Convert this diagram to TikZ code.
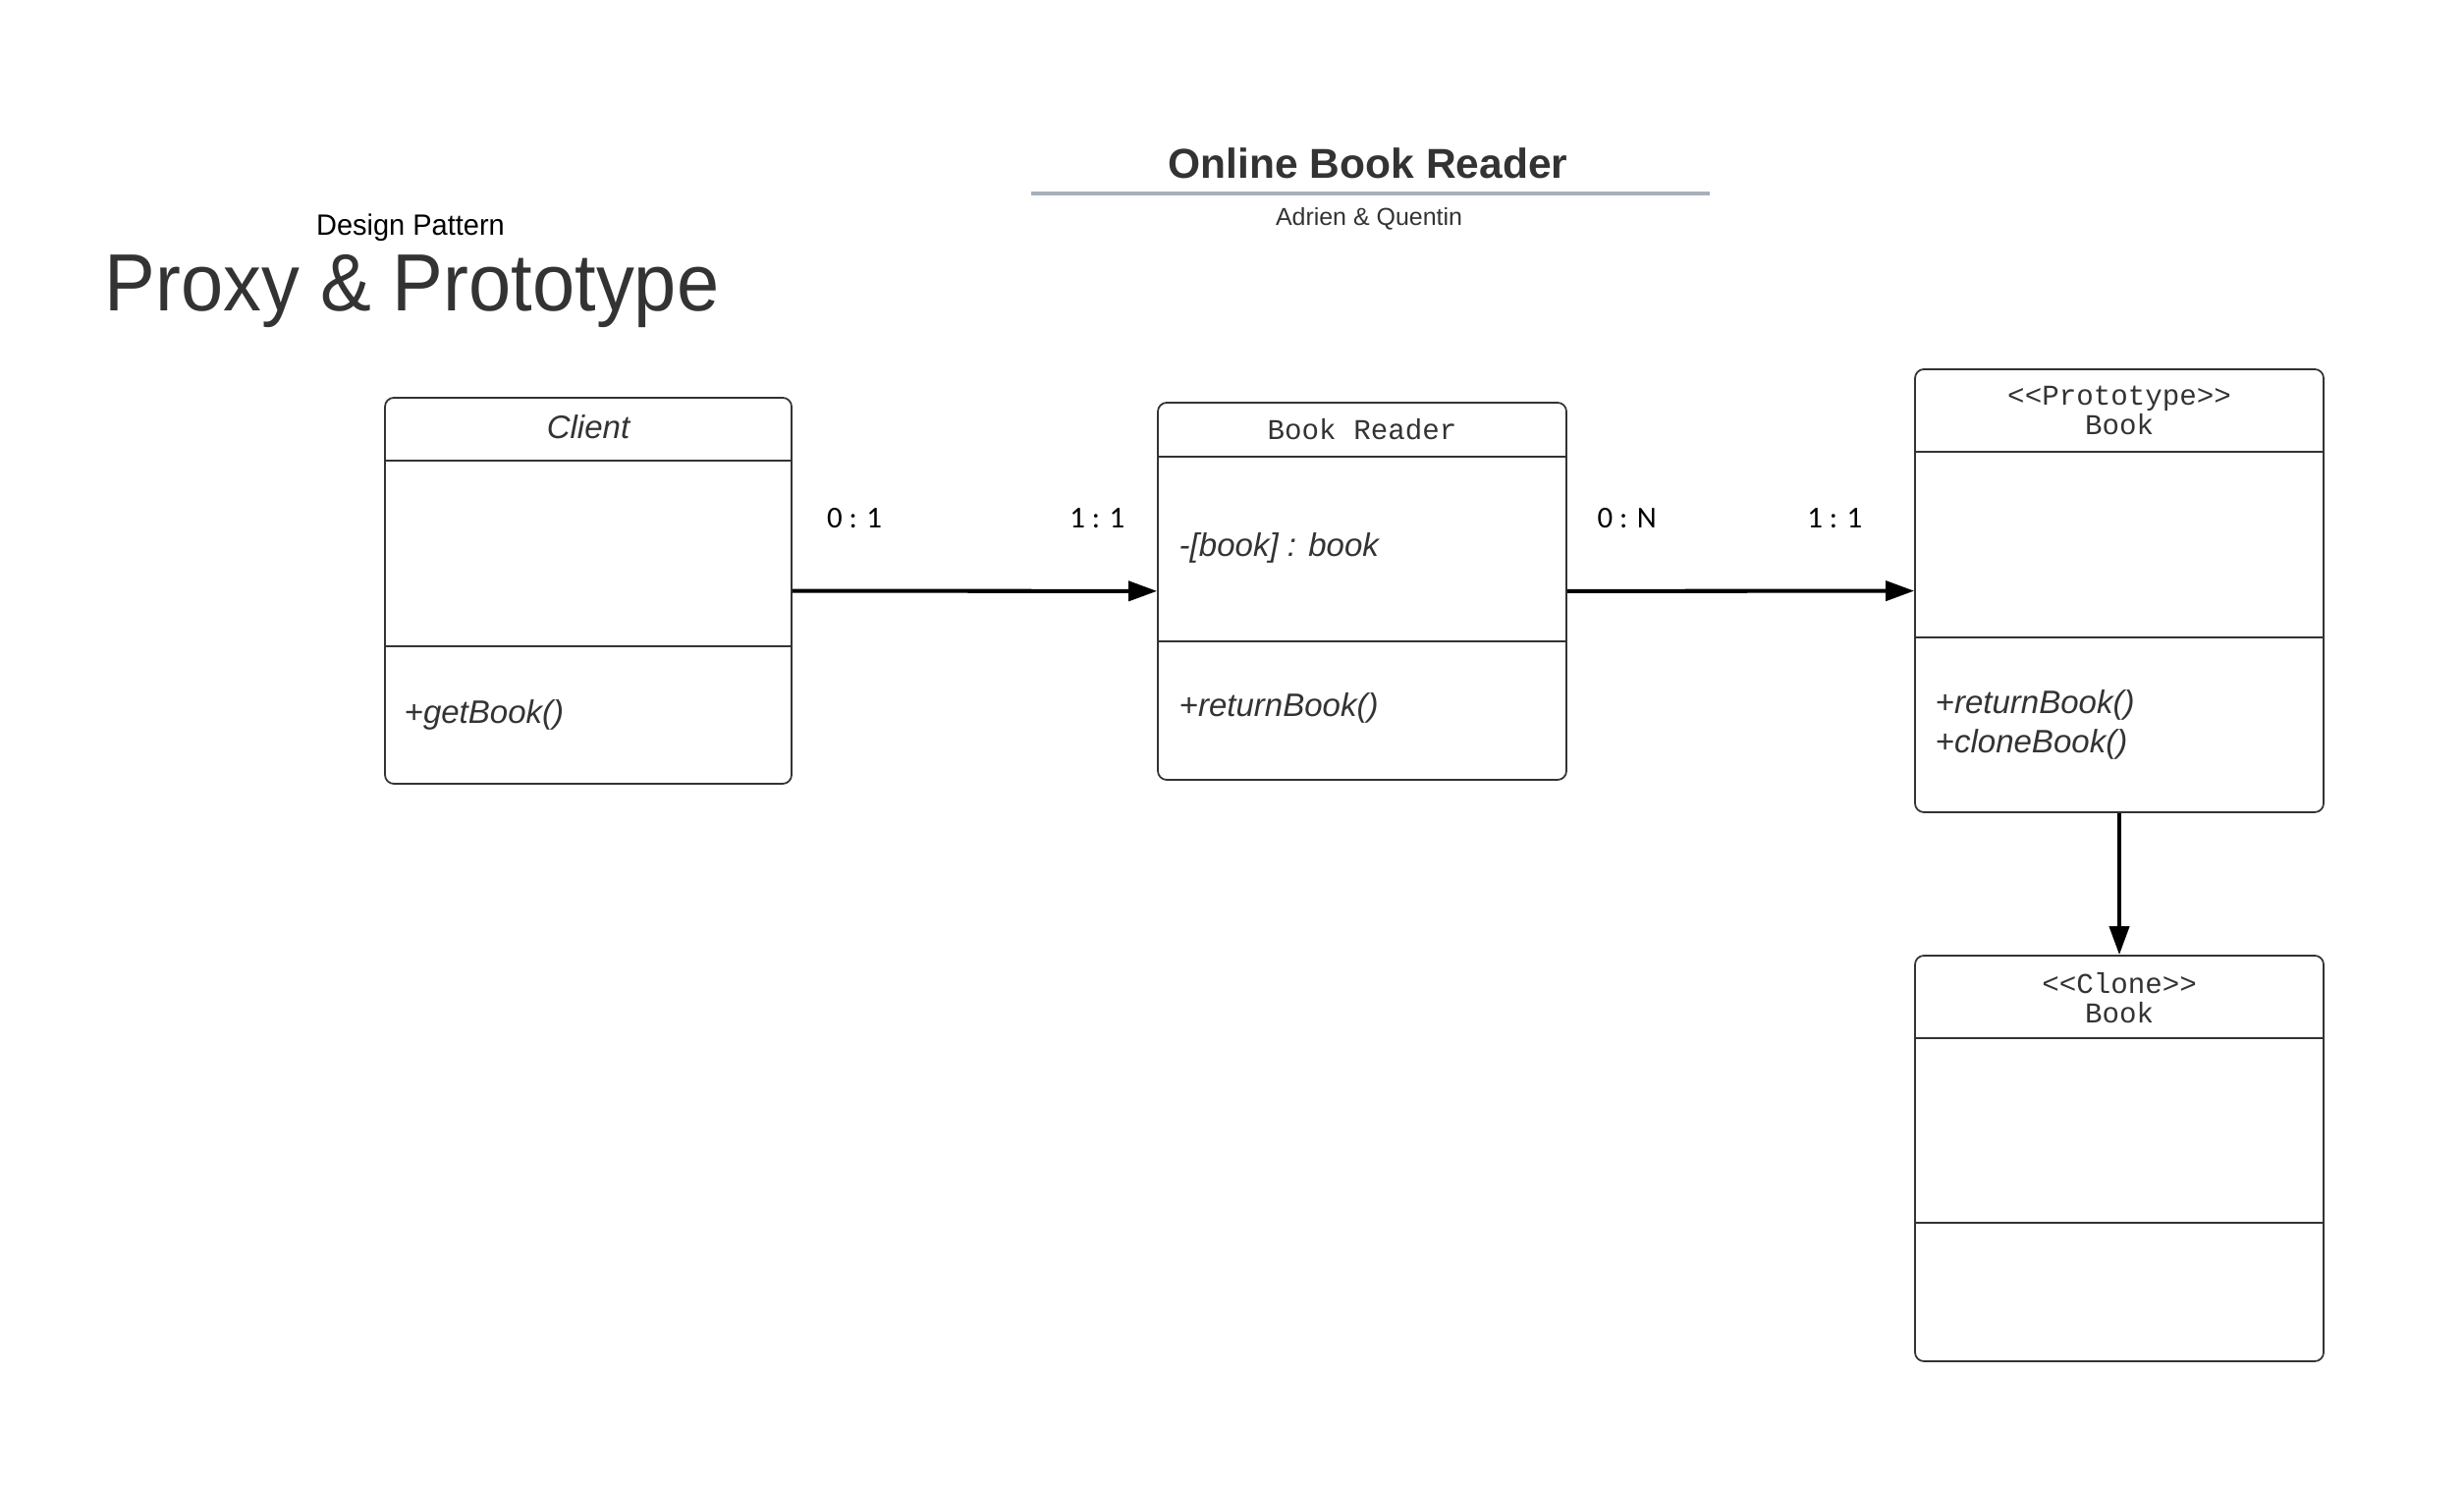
\documentclass[tikz,border=0pt]{standalone}
\usepackage{fontspec}
\setmainfont{Liberation Sans}
\setmonofont{Liberation Mono}
\newfontfamily\carlito{Carlito}
\usetikzlibrary{arrows.meta}
\definecolor{txtgray}{RGB}{51,51,51}
\definecolor{rulegray}{RGB}{168,176,184}

\begin{document}
\begin{tikzpicture}[>={Triangle[length=0.29cm,width=0.2cm]},
	classbox/.style={draw=txtgray, line width=0.5pt, rounded corners=0.09cm, minimum width=4.16cm},
	divider/.style={draw=txtgray, line width=0.6pt},
	classname/.style={font=\ttfamily\fontsize{8.3}{8.3}\selectfont, text=txtgray, align=center},
	member/.style={font=\itshape\fontsize{9.4}{11.4}\selectfont, text=txtgray, anchor=west, align=left, inner sep=0pt},
	mult/.style={font=\carlito\fontsize{8.8}{10}\selectfont},
	assoc/.style={->, line width=1.15pt}]
	\useasboundingbox (0cm,0cm) rectangle (25.09cm,15.13cm);
	\node [xscale=0.97, anchor=base, font=\fontsize{8.5}{10}\selectfont] (kind) at (4.18cm,12.73cm) {Design Pattern};
	\node [xscale=0.94, anchor=base west, inner sep=0pt, font=\fontsize{23.5}{28}\selectfont, text=txtgray] (pattern) at (1.06cm,11.96cm) {Proxy \& Prototype};
	\node [font=\bfseries\fontsize{12.1}{14}\selectfont, text=txtgray] (title) at (13.93cm,13.47cm) {Online Book Reader};
	\draw [rulegray, line width=1.1pt] (10.50cm,13.16cm) -- (17.41cm,13.16cm);
	\node [font=\fontsize{7.1}{8}\selectfont, text=txtgray] (authors) at (13.94cm,12.90cm) {Adrien \& Quentin};
	\node [classbox, minimum width=4.14cm, minimum height=3.93cm] (client) at (5.99cm,9.115cm) {};
	\node [classbox, minimum height=3.84cm] (reader) at (13.87cm,9.11cm) {};
	\node [classbox, minimum height=4.51cm] (proto) at (21.58cm,9.115cm) {};
	\node [classbox, minimum height=4.13cm] (clone) at (21.58cm,3.335cm) {};
	\draw [divider] ([yshift=-0.65cm]client.north west) -- ([yshift=-0.65cm]client.north east);
	\draw [divider] ([yshift=-2.54cm]client.north west) -- ([yshift=-2.54cm]client.north east);
	\draw [divider] ([yshift=-0.56cm]reader.north west) -- ([yshift=-0.56cm]reader.north east);
	\draw [divider] ([yshift=-2.44cm]reader.north west) -- ([yshift=-2.44cm]reader.north east);
	\draw [divider] ([yshift=-0.85cm]proto.north west) -- ([yshift=-0.85cm]proto.north east);
	\draw [divider] ([yshift=-2.74cm]proto.north west) -- ([yshift=-2.74cm]proto.north east);
	\draw [divider] ([yshift=-0.85cm]clone.north west) -- ([yshift=-0.85cm]clone.north east);
	\draw [divider] ([yshift=-2.73cm]clone.north west) -- ([yshift=-2.73cm]clone.north east);
	\node [member, anchor=center] (clientname) at (5.99cm,10.78cm) {Client};
	\node [member] (getbook) at (4.11cm,7.85cm) {+getBook()};
	\node [classname] (readername) at (13.87cm,10.76cm) {Book Reader};
	\node [member] (bookattr) at (12.00cm,9.55cm) {-[book] : book};
	\node [member] (readerops) at (12.00cm,7.92cm) {+returnBook()};
	\node [classname] (protoname) at (21.58cm,10.95cm) {<{}<Prototype>{}>\\Book};
	\node [member] (protoops) at (19.70cm,7.75cm) {+returnBook()\\+cloneBook()};
	\node [classname] (clonename) at (21.58cm,4.97cm) {<{}<Clone>{}>\\Book};
	\draw [assoc] (client) -- (reader)
		node [mult, pos=0.17, yshift=0.74cm] (m1) {0 : 1}
		node [mult, pos=0.836, yshift=0.74cm] (m2) {1 : 1};
	\draw [assoc] (reader) -- (proto)
		node [mult, pos=0.172, yshift=0.74cm] (m3) {0 : N}
		node [mult, pos=0.771, yshift=0.74cm] (m4) {1 : 1};
	\draw [assoc] (proto) -- (clone);
\end{tikzpicture}
\end{document}
